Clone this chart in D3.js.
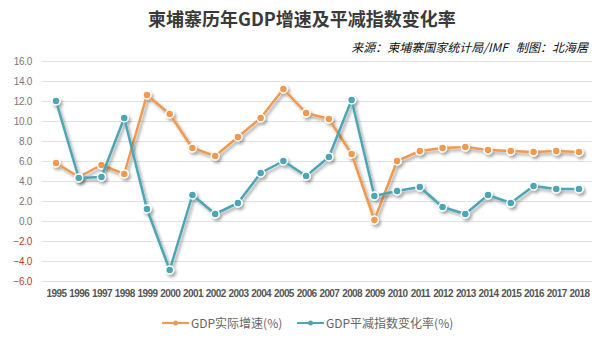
<!DOCTYPE html>
<html><head><meta charset="utf-8">
<script src="https://cdn.jsdelivr.net/npm/d3@7"></script>
<style>body{margin:0;background:#fff}svg{display:block}</style>
</head><body>
<svg id="c" width="605" height="340"></svg>
<script>
const years = ["1995","1996","1997","1998","1999","2000","2001","2002","2003","2004","2005","2006","2007","2008","2009","2010","2011","2012","2013","2014","2015","2016","2017","2018"];
const gdpGrowth = [5.8,4.4,5.6,4.7,12.6,10.7,7.3,6.5,8.4,10.3,13.2,10.8,10.2,6.7,0.1,6.0,7.0,7.3,7.4,7.1,7.0,6.9,7.0,6.9];
const deflator = [12.0,4.3,4.4,10.3,1.2,-4.9,2.6,0.7,1.8,4.8,6.0,4.5,6.4,12.1,2.5,3.0,3.4,1.4,0.7,2.6,1.8,3.5,3.2,3.2];
const yTicks = [-6,-4,-2,0,2,4,6,8,10,12,14,16];
const seriesNames = ["GDP实际增速(%)","GDP平减指数变化率(%)"];
const colors = ["#ef9a4f","#4ca6b5"];
const title = "柬埔寨历年GDP增速及平减指数变化率";
const subtitle = "来源：柬埔寨国家统计局/IMF   制图：北海居";

const svg = d3.select("#c");
const font = "'Liberation Sans', Arial, 'Noto Sans CJK SC', sans-serif";
const defs = svg.append("defs");
const f = defs.append("filter").attr("id","sh").attr("x","-10%").attr("y","-10%").attr("width","130%").attr("height","140%");
f.append("feDropShadow").attr("dx",2).attr("dy",2.5).attr("stdDeviation",1.6).attr("flood-color","#000").attr("flood-opacity",0.35);

const x = d3.scalePoint().domain(years).range([56,579]);
const y = d3.scaleLinear().domain([-6,16]).range([281,61]);

svg.append("text").attr("x",302).attr("y",26).attr("text-anchor","middle")
  .attr("font-family","'Noto Sans CJK SC', sans-serif").attr("font-weight","bold").attr("font-size",18)
  .attr("fill","#3a3a3a").text(title);
svg.append("text").attr("x",588).attr("y",52).attr("text-anchor","end")
  .attr("font-family","'Noto Sans CJK SC', sans-serif").attr("font-style","italic").attr("font-size",12)
  .style("white-space","pre").attr("fill","#111").text(subtitle);

// grid
svg.append("g").selectAll("line").data(yTicks).join("line")
  .attr("x1",42).attr("x2",592).attr("y1",d=>y(d)+0.5).attr("y2",d=>y(d)+0.5)
  .attr("stroke","#e3e3e3").attr("stroke-width",1);

// y labels
const yAxis = d3.axisLeft(y).tickValues(yTicks).tickFormat(d3.format(".1f")).tickSize(0).tickPadding(0);
const ya = svg.append("g").attr("transform","translate(32,0)").call(yAxis);
ya.select(".domain").remove();
ya.selectAll("text").attr("font-family",font).attr("font-size",10)
  .attr("fill",d=>d<0?"#c0392b":"#777").attr("letter-spacing","-0.3");

// x labels
const xAxis = d3.axisBottom(x).tickSize(0).tickPadding(0);
const xa = svg.append("g").attr("transform","translate(0,290)").call(xAxis);
xa.select(".domain").remove();
xa.selectAll("text").attr("font-family",font).attr("font-size",10).attr("font-weight","bold")
  .attr("fill","#555").attr("letter-spacing","-0.6");

const line = d3.line().x((d,i)=>x(years[i])).y(d=>y(d));
[gdpGrowth, deflator].forEach((s,k)=>{
  const c = colors[k];
  const g = svg.append("g").attr("filter","url(#sh)");
  g.append("path").datum(s).attr("d",line).attr("fill","none").attr("stroke",c).attr("stroke-width",2.5).attr("stroke-linejoin","round");
  g.selectAll("circle").data(s).join("circle").attr("cx",(d,i)=>x(years[i])).attr("cy",d=>y(d))
    .attr("r",4).attr("fill",c).attr("stroke","#fff").attr("stroke-width",1.5);
});

// legend
const lg = [{x:162,name:seriesNames[0],c:colors[0]},{x:297,name:seriesNames[1],c:colors[1]}];
const L = svg.append("g").selectAll("g").data(lg).join("g").attr("transform",d=>`translate(${d.x},323)`);
L.append("line").attr("x1",0).attr("x2",27).attr("stroke",d=>d.c).attr("stroke-width",2);
L.append("circle").attr("cx",13.5).attr("r",2.5).attr("fill",d=>d.c);
L.append("text").attr("x",29).attr("y",4.5).attr("font-family","'Noto Sans CJK SC', sans-serif").attr("font-size",12)
  .attr("fill","#666").text(d=>d.name);
</script>
</body></html>
